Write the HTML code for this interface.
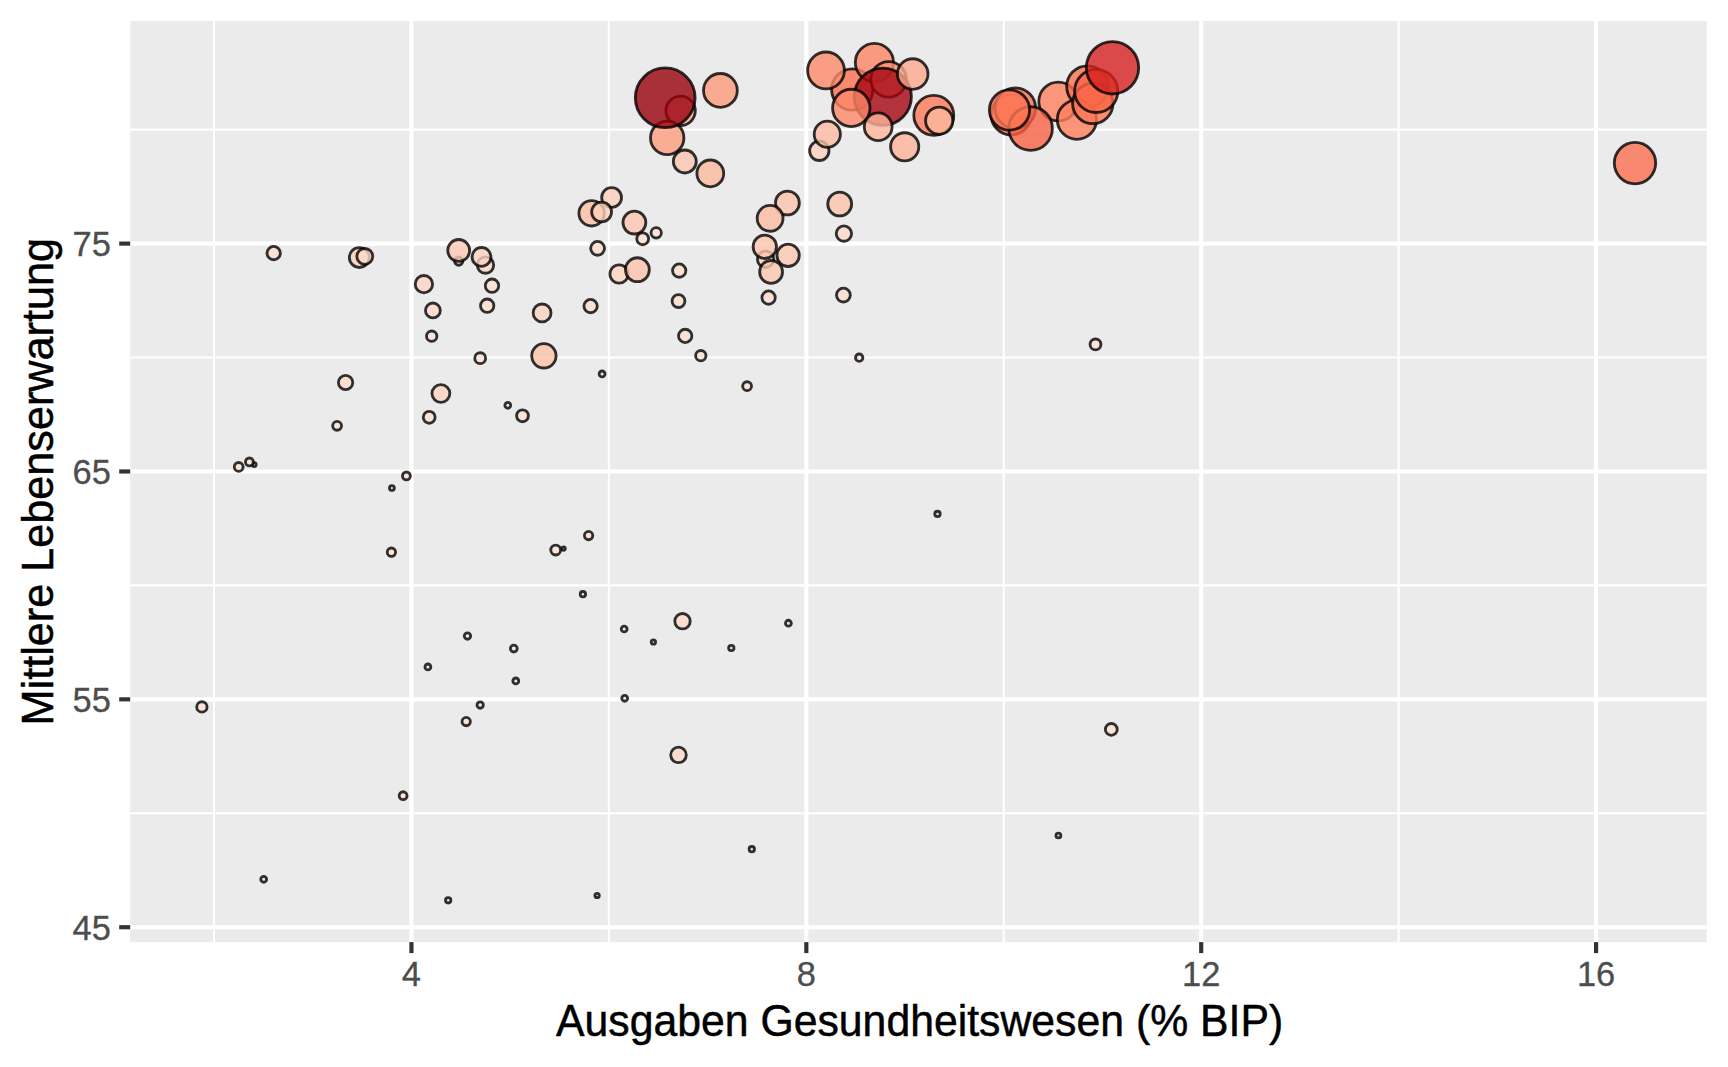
<!DOCTYPE html>
<html lang="de"><head><meta charset="utf-8"><title>Plot</title>
<style>html,body{margin:0;padding:0;background:#fff}body{width:1728px;height:1067px;overflow:hidden}svg{display:block}text{font-family:"Liberation Sans",sans-serif}</style></head><body>
<svg width="1728" height="1067" viewBox="0 0 1728 1067">
<rect width="1728" height="1067" fill="#ffffff"/>
<rect x="130.2" y="21.0" width="1576.6" height="921.1" fill="#EBEBEB"/>
<g stroke="#ffffff" fill="none">
<line x1="130.2" x2="1706.8" y1="813.27" y2="813.27" stroke-width="2.08"/>
<line x1="130.2" x2="1706.8" y1="585.40" y2="585.40" stroke-width="2.08"/>
<line x1="130.2" x2="1706.8" y1="357.53" y2="357.53" stroke-width="2.08"/>
<line x1="130.2" x2="1706.8" y1="129.66" y2="129.66" stroke-width="2.08"/>
<line y1="21.0" y2="942.1" x1="214.01" x2="214.01" stroke-width="2.08"/>
<line y1="21.0" y2="942.1" x1="608.89" x2="608.89" stroke-width="2.08"/>
<line y1="21.0" y2="942.1" x1="1003.77" x2="1003.77" stroke-width="2.08"/>
<line y1="21.0" y2="942.1" x1="1398.65" x2="1398.65" stroke-width="2.08"/>
<line x1="130.2" x2="1706.8" y1="927.21" y2="927.21" stroke-width="4.15"/>
<line x1="130.2" x2="1706.8" y1="699.34" y2="699.34" stroke-width="4.15"/>
<line x1="130.2" x2="1706.8" y1="471.47" y2="471.47" stroke-width="4.15"/>
<line x1="130.2" x2="1706.8" y1="243.60" y2="243.60" stroke-width="4.15"/>
<line y1="21.0" y2="942.1" x1="411.45" x2="411.45" stroke-width="4.15"/>
<line y1="21.0" y2="942.1" x1="806.33" x2="806.33" stroke-width="4.15"/>
<line y1="21.0" y2="942.1" x1="1201.21" x2="1201.21" stroke-width="4.15"/>
<line y1="21.0" y2="942.1" x1="1596.09" x2="1596.09" stroke-width="4.15"/>
</g>
<g stroke="#000000" stroke-opacity="0.8" stroke-width="2.83">
<circle cx="273.7" cy="253.1" r="6.68" fill="rgb(254,222,207)" fill-opacity="0.8"/>
<circle cx="359.3" cy="257.6" r="9.93" fill="rgb(254,208,188)" fill-opacity="0.8"/>
<circle cx="364.8" cy="256.4" r="7.93" fill="rgb(254,217,201)" fill-opacity="0.8"/>
<circle cx="458.7" cy="261.1" r="4.13" fill="rgb(254,228,215)" fill-opacity="0.8"/>
<circle cx="458.7" cy="250.4" r="10.93" fill="rgb(254,202,181)" fill-opacity="0.8"/>
<circle cx="485.5" cy="265.1" r="8.18" fill="rgb(254,216,200)" fill-opacity="0.8"/>
<circle cx="481.5" cy="256.9" r="9.39" fill="rgb(254,211,192)" fill-opacity="0.8"/>
<circle cx="423.9" cy="284.2" r="8.68" fill="rgb(254,214,197)" fill-opacity="0.8"/>
<circle cx="492.0" cy="285.7" r="6.68" fill="rgb(254,222,207)" fill-opacity="0.8"/>
<circle cx="432.9" cy="310.4" r="7.43" fill="rgb(254,219,204)" fill-opacity="0.8"/>
<circle cx="487.2" cy="305.7" r="6.68" fill="rgb(254,222,207)" fill-opacity="0.8"/>
<circle cx="542.1" cy="312.9" r="8.93" fill="rgb(254,213,195)" fill-opacity="0.8"/>
<circle cx="431.7" cy="336.2" r="5.18" fill="rgb(254,226,212)" fill-opacity="0.8"/>
<circle cx="480.2" cy="358.2" r="5.43" fill="rgb(254,225,212)" fill-opacity="0.8"/>
<circle cx="543.9" cy="355.8" r="12.18" fill="rgb(253,194,170)" fill-opacity="0.8"/>
<circle cx="345.6" cy="382.5" r="7.18" fill="rgb(254,220,205)" fill-opacity="0.8"/>
<circle cx="440.9" cy="393.5" r="8.93" fill="rgb(254,213,195)" fill-opacity="0.8"/>
<circle cx="507.8" cy="405.3" r="2.93" fill="rgb(254,229,217)" fill-opacity="0.8"/>
<circle cx="522.5" cy="415.8" r="5.93" fill="rgb(254,224,210)" fill-opacity="0.8"/>
<circle cx="429.2" cy="417.3" r="5.93" fill="rgb(254,224,210)" fill-opacity="0.8"/>
<circle cx="337.1" cy="425.8" r="4.43" fill="rgb(254,227,214)" fill-opacity="0.8"/>
<circle cx="238.7" cy="466.9" r="4.43" fill="rgb(254,227,214)" fill-opacity="0.8"/>
<circle cx="254.2" cy="464.6" r="1.94" fill="rgb(254,229,217)" fill-opacity="0.8"/>
<circle cx="249.4" cy="461.9" r="3.93" fill="rgb(254,228,215)" fill-opacity="0.8"/>
<circle cx="406.4" cy="475.9" r="3.93" fill="rgb(254,228,215)" fill-opacity="0.8"/>
<circle cx="391.9" cy="488.1" r="2.44" fill="rgb(254,229,217)" fill-opacity="0.8"/>
<circle cx="391.4" cy="552.2" r="4.18" fill="rgb(254,227,215)" fill-opacity="0.8"/>
<circle cx="563.6" cy="548.6" r="1.69" fill="rgb(254,229,217)" fill-opacity="0.8"/>
<circle cx="555.7" cy="550.1" r="4.93" fill="rgb(254,226,213)" fill-opacity="0.8"/>
<circle cx="467.5" cy="636.1" r="3.18" fill="rgb(254,229,216)" fill-opacity="0.8"/>
<circle cx="513.8" cy="648.6" r="3.43" fill="rgb(254,228,216)" fill-opacity="0.8"/>
<circle cx="427.9" cy="666.9" r="2.93" fill="rgb(254,229,217)" fill-opacity="0.8"/>
<circle cx="515.8" cy="680.9" r="2.93" fill="rgb(254,229,217)" fill-opacity="0.8"/>
<circle cx="201.9" cy="706.9" r="5.18" fill="rgb(254,226,212)" fill-opacity="0.8"/>
<circle cx="480.2" cy="705.1" r="3.18" fill="rgb(254,229,216)" fill-opacity="0.8"/>
<circle cx="466.2" cy="721.6" r="4.18" fill="rgb(254,227,215)" fill-opacity="0.8"/>
<circle cx="403.1" cy="795.7" r="3.93" fill="rgb(254,228,215)" fill-opacity="0.8"/>
<circle cx="263.7" cy="879.3" r="2.93" fill="rgb(254,229,217)" fill-opacity="0.8"/>
<circle cx="448.2" cy="900.3" r="2.68" fill="rgb(254,229,217)" fill-opacity="0.8"/>
<circle cx="590.6" cy="306.1" r="6.68" fill="rgb(254,222,207)" fill-opacity="0.8"/>
<circle cx="678.5" cy="301.1" r="6.43" fill="rgb(254,222,208)" fill-opacity="0.8"/>
<circle cx="768.6" cy="297.6" r="6.68" fill="rgb(254,222,207)" fill-opacity="0.8"/>
<circle cx="843.4" cy="295.1" r="6.93" fill="rgb(254,221,206)" fill-opacity="0.8"/>
<circle cx="685.2" cy="335.9" r="6.68" fill="rgb(254,222,207)" fill-opacity="0.8"/>
<circle cx="700.8" cy="355.7" r="5.18" fill="rgb(254,226,212)" fill-opacity="0.8"/>
<circle cx="859.2" cy="357.7" r="3.68" fill="rgb(254,228,216)" fill-opacity="0.8"/>
<circle cx="602.1" cy="373.9" r="2.93" fill="rgb(254,229,217)" fill-opacity="0.8"/>
<circle cx="747.1" cy="386.2" r="4.43" fill="rgb(254,227,214)" fill-opacity="0.8"/>
<circle cx="937.5" cy="513.9" r="2.68" fill="rgb(254,229,217)" fill-opacity="0.8"/>
<circle cx="588.6" cy="535.6" r="4.18" fill="rgb(254,227,215)" fill-opacity="0.8"/>
<circle cx="582.9" cy="594.2" r="2.68" fill="rgb(254,229,217)" fill-opacity="0.8"/>
<circle cx="624.2" cy="629.0" r="2.93" fill="rgb(254,229,217)" fill-opacity="0.8"/>
<circle cx="682.5" cy="621.2" r="7.68" fill="rgb(254,218,202)" fill-opacity="0.8"/>
<circle cx="653.4" cy="642.0" r="2.19" fill="rgb(254,229,217)" fill-opacity="0.8"/>
<circle cx="731.3" cy="648.0" r="2.68" fill="rgb(254,229,217)" fill-opacity="0.8"/>
<circle cx="788.4" cy="623.2" r="2.93" fill="rgb(254,229,217)" fill-opacity="0.8"/>
<circle cx="624.7" cy="698.3" r="2.93" fill="rgb(254,229,217)" fill-opacity="0.8"/>
<circle cx="678.5" cy="754.9" r="7.78" fill="rgb(254,218,202)" fill-opacity="0.8"/>
<circle cx="751.8" cy="849.2" r="2.68" fill="rgb(254,229,217)" fill-opacity="0.8"/>
<circle cx="597.1" cy="895.5" r="2.19" fill="rgb(254,229,217)" fill-opacity="0.8"/>
<circle cx="1095.5" cy="344.4" r="5.43" fill="rgb(254,225,212)" fill-opacity="0.8"/>
<circle cx="1111.3" cy="729.4" r="5.93" fill="rgb(254,224,210)" fill-opacity="0.8"/>
<circle cx="1058.4" cy="835.5" r="2.44" fill="rgb(254,229,217)" fill-opacity="0.8"/>
<circle cx="591.6" cy="213.3" r="12.68" fill="rgb(252,190,165)" fill-opacity="0.8"/>
<circle cx="611.6" cy="197.5" r="9.93" fill="rgb(254,208,188)" fill-opacity="0.8"/>
<circle cx="601.6" cy="212.0" r="9.93" fill="rgb(254,208,188)" fill-opacity="0.8"/>
<circle cx="634.4" cy="222.6" r="11.43" fill="rgb(253,199,177)" fill-opacity="0.8"/>
<circle cx="656.2" cy="232.8" r="5.18" fill="rgb(254,226,212)" fill-opacity="0.8"/>
<circle cx="642.7" cy="238.8" r="5.93" fill="rgb(254,224,210)" fill-opacity="0.8"/>
<circle cx="597.6" cy="248.3" r="6.93" fill="rgb(254,221,206)" fill-opacity="0.8"/>
<circle cx="619.1" cy="274.0" r="9.18" fill="rgb(254,212,193)" fill-opacity="0.8"/>
<circle cx="637.4" cy="269.7" r="11.93" fill="rgb(253,196,172)" fill-opacity="0.8"/>
<circle cx="679.2" cy="270.6" r="6.68" fill="rgb(254,222,207)" fill-opacity="0.8"/>
<circle cx="787.4" cy="203.0" r="11.93" fill="rgb(253,196,172)" fill-opacity="0.8"/>
<circle cx="770.1" cy="218.3" r="12.93" fill="rgb(252,188,163)" fill-opacity="0.8"/>
<circle cx="765.6" cy="259.3" r="8.18" fill="rgb(254,216,200)" fill-opacity="0.8"/>
<circle cx="764.8" cy="246.8" r="11.68" fill="rgb(253,197,174)" fill-opacity="0.8"/>
<circle cx="788.1" cy="255.3" r="11.18" fill="rgb(253,200,179)" fill-opacity="0.8"/>
<circle cx="771.1" cy="271.9" r="11.43" fill="rgb(253,199,177)" fill-opacity="0.8"/>
<circle cx="839.7" cy="204.0" r="11.93" fill="rgb(253,196,172)" fill-opacity="0.8"/>
<circle cx="843.9" cy="233.6" r="7.68" fill="rgb(254,218,202)" fill-opacity="0.8"/>
<circle cx="680.6" cy="110.8" r="14.69" fill="rgb(253,175,147)" fill-opacity="0.8"/>
<circle cx="667.2" cy="137.9" r="16.69" fill="rgb(253,157,126)" fill-opacity="0.8"/>
<circle cx="665.2" cy="97.8" r="29.89" fill="rgb(153,0,13)" fill-opacity="0.8"/>
<circle cx="720.4" cy="90.4" r="16.89" fill="rgb(253,155,123)" fill-opacity="0.8"/>
<circle cx="684.8" cy="161.5" r="11.48" fill="rgb(253,198,176)" fill-opacity="0.8"/>
<circle cx="710.3" cy="173.4" r="13.39" fill="rgb(252,185,159)" fill-opacity="0.8"/>
<circle cx="852.3" cy="89.5" r="20.69" fill="rgb(251,113,81)" fill-opacity="0.8"/>
<circle cx="874.4" cy="62.4" r="19.09" fill="rgb(252,132,99)" fill-opacity="0.8"/>
<circle cx="888.6" cy="79.4" r="17.79" fill="rgb(252,145,113)" fill-opacity="0.8"/>
<circle cx="882.8" cy="96.7" r="28.59" fill="rgb(165,5,17)" fill-opacity="0.8"/>
<circle cx="826.0" cy="70.4" r="18.39" fill="rgb(252,139,107)" fill-opacity="0.8"/>
<circle cx="851.3" cy="107.9" r="18.69" fill="rgb(252,136,104)" fill-opacity="0.8"/>
<circle cx="912.7" cy="74.0" r="15.29" fill="rgb(253,170,141)" fill-opacity="0.8"/>
<circle cx="878.2" cy="126.7" r="13.89" fill="rgb(252,181,154)" fill-opacity="0.8"/>
<circle cx="819.3" cy="150.8" r="9.68" fill="rgb(254,209,190)" fill-opacity="0.8"/>
<circle cx="827.3" cy="134.2" r="13.09" fill="rgb(252,187,161)" fill-opacity="0.8"/>
<circle cx="904.7" cy="146.8" r="14.09" fill="rgb(252,180,152)" fill-opacity="0.8"/>
<circle cx="933.8" cy="115.3" r="19.98" fill="rgb(252,122,89)" fill-opacity="0.8"/>
<circle cx="939.2" cy="120.7" r="13.59" fill="rgb(252,184,157)" fill-opacity="0.8"/>
<circle cx="1011.2" cy="114.8" r="20.19" fill="rgb(252,119,86)" fill-opacity="0.8"/>
<circle cx="1015.3" cy="108.2" r="20.29" fill="rgb(252,118,85)" fill-opacity="0.8"/>
<circle cx="1058.2" cy="101.5" r="19.39" fill="rgb(252,129,96)" fill-opacity="0.8"/>
<circle cx="1030.6" cy="128.5" r="21.79" fill="rgb(249,99,69)" fill-opacity="0.8"/>
<circle cx="1009.5" cy="110.0" r="20.09" fill="rgb(252,120,88)" fill-opacity="0.8"/>
<circle cx="1087.4" cy="86.5" r="20.69" fill="rgb(251,113,81)" fill-opacity="0.8"/>
<circle cx="1076.9" cy="119.7" r="19.59" fill="rgb(252,126,93)" fill-opacity="0.8"/>
<circle cx="1092.8" cy="103.5" r="20.19" fill="rgb(252,119,86)" fill-opacity="0.8"/>
<circle cx="1096.2" cy="90.9" r="21.59" fill="rgb(250,101,70)" fill-opacity="0.8"/>
<circle cx="1112.5" cy="67.8" r="26.19" fill="rgb(212,34,33)" fill-opacity="0.8"/>
<circle cx="1635.0" cy="163.1" r="20.69" fill="rgb(251,113,81)" fill-opacity="0.8"/>
</g>
<g stroke="#333333" stroke-width="4.15">
<line x1="119.2" x2="130.2" y1="927.21" y2="927.21"/>
<line x1="119.2" x2="130.2" y1="699.34" y2="699.34"/>
<line x1="119.2" x2="130.2" y1="471.47" y2="471.47"/>
<line x1="119.2" x2="130.2" y1="243.60" y2="243.60"/>
<line y1="942.1" y2="953.1" x1="411.45" x2="411.45"/>
<line y1="942.1" y2="953.1" x1="806.33" x2="806.33"/>
<line y1="942.1" y2="953.1" x1="1201.21" x2="1201.21"/>
<line y1="942.1" y2="953.1" x1="1596.09" x2="1596.09"/>
</g>
<g fill="#4D4D4D" stroke="#4D4D4D" stroke-width="0.3" font-size="35.2px">
<text transform="translate(110.9,939.7) scale(0.978,1)" text-anchor="end">45</text>
<text transform="translate(110.9,711.8) scale(0.978,1)" text-anchor="end">55</text>
<text transform="translate(110.9,484.0) scale(0.978,1)" text-anchor="end">65</text>
<text transform="translate(110.9,256.1) scale(0.978,1)" text-anchor="end">75</text>
<text transform="translate(411.4,986.3) scale(0.978,1)" text-anchor="middle">4</text>
<text transform="translate(806.3,986.3) scale(0.978,1)" text-anchor="middle">8</text>
<text transform="translate(1201.2,986.3) scale(0.978,1)" text-anchor="middle">12</text>
<text transform="translate(1596.1,986.3) scale(0.978,1)" text-anchor="middle">16</text>
</g>
<text transform="translate(919.6,1035.7) scale(0.961,1)" text-anchor="middle" font-size="44.5px" fill="#000000" stroke="#000000" stroke-width="0.5">Ausgaben Gesundheitswesen (% BIP)</text>
<text transform="translate(52.8,481.7) rotate(-90) scale(0.971,1)" text-anchor="middle" font-size="44.5px" fill="#000000" stroke="#000000" stroke-width="0.5">Mittlere Lebenserwartung</text>
</svg></body></html>
